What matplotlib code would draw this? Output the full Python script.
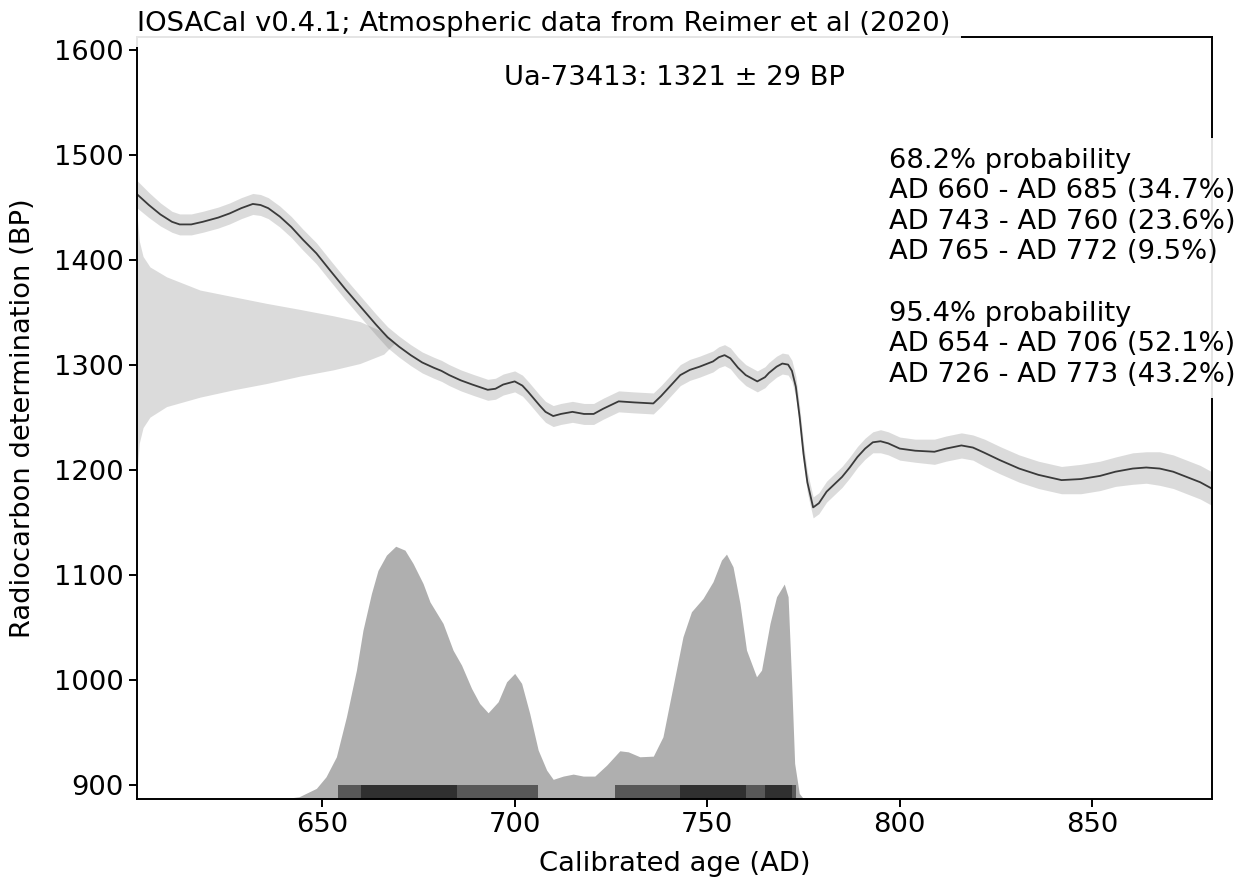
import matplotlib
matplotlib.use("Agg")
import matplotlib.pyplot as plt

# calibration curve (IntCal20 segment), BP with band half-width
CURVE_X = [602, 605, 608, 611, 613, 616, 619, 623, 626, 629, 632, 634, 636,
           639, 642, 645, 648.5, 652, 656, 660, 664, 667, 670, 673, 676, 679,
           681, 683, 686, 689, 693, 695, 697, 700, 702, 703.5, 706.5, 708,
           710, 712, 715, 718, 720.5, 723, 727, 731, 736, 738, 741, 743,
           745.5, 748, 751.5, 753, 754.5, 756, 758, 760, 763, 765, 766, 768,
           769.5, 771, 772, 773, 774, 775, 776, 777.5, 779, 781, 783, 785,
           787, 789, 791, 793, 795, 797, 800, 804, 809, 812, 816, 819, 822,
           826, 831, 836, 842, 847, 852, 856, 860.5, 864, 867.5, 871, 874.5,
           878, 881]
CURVE_BP = [1462, 1452, 1443, 1436, 1433.5, 1433.5, 1436, 1440, 1444, 1449,
            1453, 1452, 1449, 1441, 1431, 1419, 1406, 1390, 1372, 1355, 1338,
            1326, 1317, 1309, 1302, 1297, 1294, 1290, 1285, 1281, 1276, 1277,
            1281, 1284, 1280, 1274, 1261, 1255, 1251, 1253, 1255, 1253, 1253,
            1258, 1265, 1264, 1263, 1270, 1282, 1290, 1295, 1298, 1303, 1307,
            1309, 1306, 1297, 1290, 1284, 1288, 1292, 1298, 1301, 1300, 1294,
            1279, 1250, 1215, 1188, 1164, 1168, 1179, 1186, 1193, 1202, 1212,
            1220, 1226, 1227, 1225, 1220, 1218, 1217, 1220, 1223, 1221, 1216,
            1209, 1201, 1195, 1190, 1191, 1194, 1198, 1201, 1202, 1201, 1198,
            1193, 1188, 1182]
CURVE_ERR = [13, 12, 11, 10, 10, 10, 10, 10, 10, 10, 10, 10, 10,
             10, 10, 10, 10, 10, 10, 10, 10, 10, 10, 10, 10, 10,
             10, 10, 10, 10, 10, 10, 10, 10, 10, 10, 10, 10,
             10, 10, 10, 10, 10, 10, 10, 10, 10, 10, 10, 10,
             10, 10, 10, 10, 10, 10, 10, 10, 10, 10, 10, 10,
             10, 10, 10, 10, 10, 10, 10, 10, 10, 10, 10, 10,
             10, 10, 10, 10, 11, 11, 11, 11, 12, 12, 12, 12, 13,
             13, 13, 13, 13, 14, 14, 14, 15, 15, 16, 16, 16,
             16, 16]

# radiocarbon determination profile (width in years at each BP level)
DATE_BP = [1200, 1225, 1240, 1250, 1260, 1269, 1276, 1282, 1289, 1295, 1301,
           1310, 1321, 1331, 1341, 1346.5, 1352.6, 1358.3, 1364.6, 1371,
           1383.6, 1393, 1403, 1418, 1440]
DATE_W = [0, 0.5, 1.5, 3.3, 7.6, 16.3, 25, 33.6, 42.2, 50.9, 57.8, 64, 67,
          64, 57.8, 50.9, 42.2, 33.6, 25, 16.3, 7.6, 3.3, 1.5, 0.5, 0]

# calibrated age distribution (drawn on BP scale)
CAL_X = [602, 636, 641, 644, 648.5, 651, 653.7, 656.3, 658.9, 660.6, 662.8,
         664.5, 666.7, 669.1, 671.5, 673.6, 676.2, 678, 681.4, 684, 686.2,
         688.8, 690.9, 693.1, 695.7, 697.9, 700, 701.8, 703.9, 706.1, 708.3,
         710, 712.6, 715.2, 717.8, 720.8, 723.9, 727.3, 729.5, 732.5, 736,
         738.5, 741.1, 743.7, 745.9, 748.9, 751.5, 753.7, 755, 756.7, 758.5,
         760.2, 762.8, 764.1, 766.3, 768, 770, 771, 771.9, 772.7, 773.9, 775,
         790, 795, 800, 810, 815, 820, 881]
CAL_BP = [886, 886, 887, 888.4, 896.4, 907.4, 926.5, 964.6, 1009, 1047, 1082,
          1104, 1118.6, 1127, 1123.3, 1110.7, 1091.6, 1074, 1053.5, 1028,
          1013.8, 991.6, 977.3, 968.4, 978.9, 997.9, 1005.9, 996.4, 967.8,
          932.9, 913.8, 905, 908.1, 910, 908.1, 908.1, 918.6, 932.2, 931.2,
          926.5, 927.1, 945.5, 993.1, 1040.8, 1064.6, 1077.3, 1093.2, 1113.8,
          1119.5, 1107.4, 1072.6, 1028.1, 1002.7, 1009, 1053.5, 1078.9, 1091,
          1078.9, 999.5, 920.2, 891.6, 886.5, 886.5, 887.5, 886.5, 886.5,
          887.3, 886.2, 886]

HPD95 = [(654, 706), (726, 773)]
HPD68 = [(660, 685), (743, 760), (765, 772)]

XMIN, XMAX = 602, 881
YMIN, YMAX = 886, 1612

TITLE = "IOSACal v0.4.1; Atmospheric data from Reimer et al (2020)"
DATE_LABEL = "Ua-73413: 1321 ± 29 BP"
RANGES = ("68.2% probability\n"
          "AD 660 - AD 685 (34.7%)\n"
          "AD 743 - AD 760 (23.6%)\n"
          "AD 765 - AD 772 (9.5%)\n"
          "\n"
          "95.4% probability\n"
          "AD 654 - AD 706 (52.1%)\n"
          "AD 726 - AD 773 (43.2%)")

FS = 19.7

fig = plt.figure(figsize=(12.46, 8.85), dpi=100)
ax = fig.add_axes([137.3 / 1246, 1 - 799.3 / 885,
                   (1211.7 - 137.3) / 1246, (799.3 - 37) / 885])

# calibrated distribution + hpd bars
ax.fill_between(CAL_X, YMIN, CAL_BP, color="#afafaf", lw=0)
for a, b in HPD95:
    ax.fill_between([a, b], YMIN, 899.5, color="#585858", lw=0)
for a, b in HPD68:
    ax.fill_between([a, b], YMIN, 899.5, color="#303030", lw=0)

# radiocarbon determination
ax.fill_betweenx(DATE_BP, XMIN, [XMIN + w for w in DATE_W],
                 color="0.5", alpha=0.28, lw=0)

# calibration curve
lo = [y - e for y, e in zip(CURVE_BP, CURVE_ERR)]
hi = [y + e for y, e in zip(CURVE_BP, CURVE_ERR)]
ax.fill_between(CURVE_X, lo, hi, color="0.5", alpha=0.28, lw=0)
ax.plot(CURVE_X, CURVE_BP, color="#3a3a3a", lw=1.3)

ax.set_xlim(XMIN, XMAX)
ax.set_ylim(YMIN, YMAX)
ax.set_xticks([650, 700, 750, 800, 850])
ax.set_yticks(range(900, 1601, 100))
ax.tick_params(labelsize=FS, length=6, width=1.4)
for s in ax.spines.values():
    s.set_linewidth(1.4)

ax.set_xlabel("Calibrated age (AD)", fontsize=FS, labelpad=9)
ax.set_ylabel("Radiocarbon determination (BP)", fontsize=FS, labelpad=13)

ax.text(0.0, 1.0, TITLE, transform=ax.transAxes, ha="left", va="bottom",
        fontsize=FS,
        bbox=dict(facecolor="white", alpha=0.9, lw=0, pad=7))
ax.text(0.5, 0.946, DATE_LABEL, transform=ax.transAxes, ha="center",
        va="center", fontsize=FS)
ax.text(0.70, 0.855, RANGES, transform=ax.transAxes, ha="left", va="top",
        fontsize=FS, linespacing=1.23,
        bbox=dict(facecolor="white", alpha=0.9, lw=0, pad=7))

fig.savefig("out.png", dpi=100)
